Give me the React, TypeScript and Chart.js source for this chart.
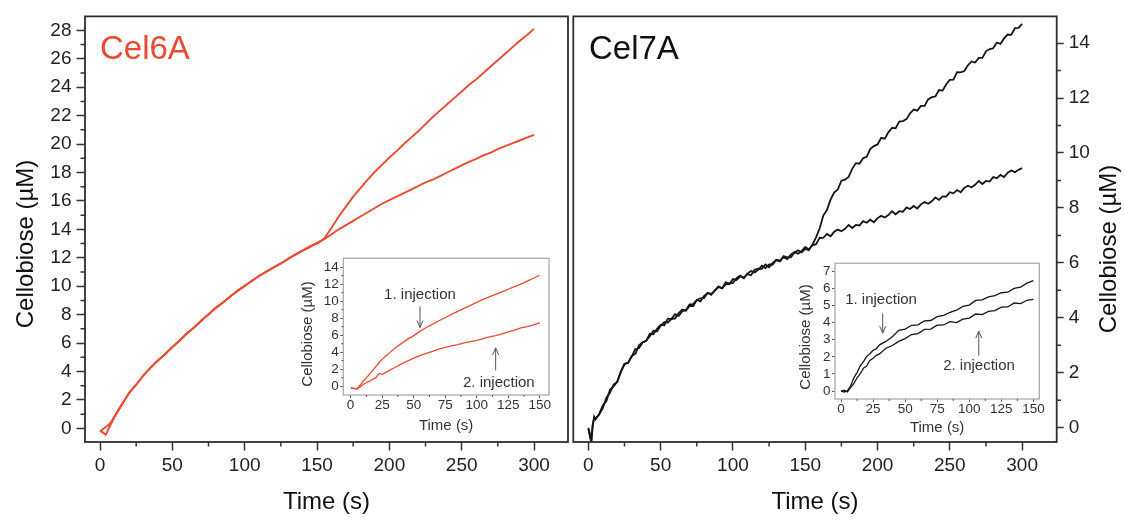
import React, { useEffect, useRef } from 'react';
import { Chart, registerables } from 'chart.js';

Chart.register(...registerables);

const FONT = "'Liberation Sans', Arial, Helvetica, sans-serif";
const RED = '#e94b32';
const INK = '#151515';

// ---------------- data ----------------
// Cel6A main panel (µM vs s)
const cel6aTime = [0, 2, 4, 6, 8, 10, 15, 20, 25, 30, 35, 40, 45, 50, 55, 60, 65, 70, 75, 80, 85, 90, 95, 100, 105, 110, 115, 120, 125, 130, 135, 140, 145, 150, 155, 160, 165, 170, 175, 180, 185, 190, 195, 200, 205, 210, 215, 220, 225, 230, 235, 240, 245, 250, 255, 260, 265, 270, 275, 280, 285, 290, 295, 300];
const cel6aUpper = [-0.25, -0.05, 0.1, 0.25, 0.5, 0.85, 1.7, 2.45, 3.1, 3.7, 4.3, 4.75, 5.25, 5.7, 6.2, 6.65, 7.1, 7.55, 8.05, 8.45, 8.85, 9.3, 9.65, 10.0, 10.4, 10.7, 11.05, 11.3, 11.6, 11.95, 12.2, 12.5, 12.8, 13.0, 13.35, 14.1, 14.9, 15.6, 16.3, 16.9, 17.5, 18.05, 18.55, 19.05, 19.5, 20.0, 20.45, 20.9, 21.4, 21.9, 22.35, 22.8, 23.25, 23.7, 24.15, 24.55, 25.0, 25.45, 25.9, 26.35, 26.8, 27.25, 27.65, 28.1];
const cel6aLower = [-0.15, -0.3, -0.45, 0.0, 0.4, 0.8, 1.65, 2.5, 3.05, 3.75, 4.25, 4.8, 5.2, 5.75, 6.15, 6.7, 7.1, 7.6, 8.0, 8.5, 8.85, 9.25, 9.7, 10.05, 10.35, 10.75, 11.0, 11.35, 11.6, 11.9, 12.25, 12.5, 12.75, 13.05, 13.3, 13.65, 14.0, 14.3, 14.6, 14.9, 15.2, 15.5, 15.8, 16.05, 16.3, 16.55, 16.8, 17.05, 17.3, 17.5, 17.75, 18.0, 18.25, 18.5, 18.75, 18.95, 19.2, 19.4, 19.65, 19.85, 20.05, 20.25, 20.45, 20.65];

// Cel7A main panel
const cel7aTime = [
  0, 1, 2, 3, 4, 5, 7.5,
  10, 12.5, 15, 17.5, 20, 22.5, 25, 27.5, 30, 32.5,
  35, 37.5, 40, 42.5, 45, 47.5, 50, 52.5, 55, 57.5,
  60, 62.5, 65, 67.5, 70, 72.5, 75, 77.5, 80, 82.5,
  85, 87.5, 90, 92.5, 95, 97.5, 100, 102.5, 105, 107.5,
  110, 112.5, 115, 117.5, 120, 122.5, 125, 127.5, 130, 132.5,
  135, 137.5, 140, 142.5, 145, 147.5, 150, 152.5, 155, 157.5,
  160, 162.5, 165, 167.5, 170, 172.5, 175, 177.5, 180, 182.5,
  185, 187.5, 190, 192.5, 195, 197.5, 200, 202.5, 205, 207.5,
  210, 212.5, 215, 217.5, 220, 222.5, 225, 227.5, 230, 232.5,
  235, 237.5, 240, 242.5, 245, 247.5, 250, 252.5, 255, 257.5,
  260, 262.5, 265, 267.5, 270, 272.5, 275, 277.5, 280, 282.5,
  285, 287.5, 290, 292.5, 295, 297.5, 300,
];
const cel7aUpper = [
  0.0, -0.2, -0.55, 0.05, 0.4, 0.3, 0.5,
  0.81, 0.97, 1.39, 1.5, 1.68, 2.04, 2.33, 2.36, 2.61, 2.69,
  3.0, 3.11, 3.16, 3.42, 3.4, 3.6, 3.74, 3.73, 3.97, 3.95,
  3.98, 4.17, 4.3, 4.26, 4.43, 4.43, 4.65, 4.71, 4.72, 4.91,
  4.84, 5.01, 5.12, 5.08, 5.29, 5.25, 5.27, 5.44, 5.54, 5.46,
  5.59, 5.55, 5.75, 5.79, 5.78, 5.94, 5.84, 6.0, 6.1, 6.05,
  6.25, 6.2, 6.2, 6.37, 6.46, 6.38, 6.51, 6.46, 6.67, 6.93,
  7.26, 7.72, 7.92, 8.3, 8.56, 8.67, 8.99, 9.03, 9.13, 9.42,
  9.63, 9.61, 9.81, 9.86, 10.15, 10.25, 10.31, 10.55, 10.52, 10.75,
  10.91, 10.9, 11.14, 11.16, 11.23, 11.44, 11.58, 11.54, 11.71, 11.71,
  11.95, 12.03, 12.06, 12.29, 12.27, 12.5, 12.66, 12.67, 12.94, 12.93,
  12.98, 13.19, 13.33, 13.29, 13.46, 13.46, 13.7, 13.78, 13.81, 14.02,
  13.97, 14.17, 14.31, 14.3, 14.54, 14.55, 14.7,
];
const cel7aLower = [
  -0.05, -0.3, -0.5, 0.1, 0.35, 0.35, 0.48,
  0.71, 1.09, 1.28, 1.57, 1.67, 2.03, 2.31, 2.37, 2.59, 2.86,
  2.89, 3.1, 3.16, 3.33, 3.53, 3.5, 3.71, 3.84, 3.83, 3.96,
  4.13, 4.07, 4.24, 4.28, 4.49, 4.5, 4.65, 4.6, 4.79, 4.9,
  4.87, 4.98, 5.14, 5.07, 5.22, 5.23, 5.41, 5.38, 5.51, 5.44,
  5.61, 5.7, 5.65, 5.75, 5.9, 5.81, 5.94, 5.94, 6.11, 6.08,
  6.21, 6.14, 6.3, 6.39, 6.33, 6.43, 6.58, 6.49, 6.64, 6.68,
  6.92, 6.91, 7.05, 6.97, 7.13, 7.21, 7.15, 7.24, 7.38, 7.27,
  7.38, 7.36, 7.52, 7.46, 7.57, 7.48, 7.63, 7.71, 7.65, 7.74,
  7.88, 7.77, 7.88, 7.86, 8.02, 7.96, 8.07, 7.98, 8.13, 8.21,
  8.15, 8.24, 8.38, 8.29, 8.42, 8.41, 8.57, 8.53, 8.65, 8.57,
  8.73, 8.81, 8.75, 8.84, 8.98, 8.87, 8.98, 8.96, 9.12, 9.08,
  9.2, 9.12, 9.28, 9.36, 9.3, 9.39, 9.45,
];

// Insets (per injection)
const insetTime = [0, 2.5, 5, 7.5, 10, 12.5, 15, 17.5, 20, 22.5, 25, 27.5, 30, 35, 40, 45, 50, 55, 60, 65, 70, 75, 80, 85, 90, 95, 100, 105, 110, 115, 120, 125, 130, 135, 140, 145, 150];
const cel6aInj1 = [-0.2, -0.25, -0.3, 0.1, 0.6, 1.0, 1.4, 1.85, 2.3, 2.75, 3.15, 3.5, 3.8, 4.45, 5.0, 5.5, 5.95, 6.45, 6.9, 7.3, 7.7, 8.05, 8.45, 8.8, 9.15, 9.5, 9.85, 10.2, 10.5, 10.8, 11.1, 11.4, 11.7, 12.0, 12.35, 12.7, 13.05];
const cel6aInj2 = [-0.2, -0.25, -0.35, -0.1, 0.2, 0.4, 0.6, 0.8, 1.0, 1.5, 1.4, 1.6, 1.8, 2.2, 2.6, 2.95, 3.3, 3.6, 3.85, 4.1, 4.35, 4.55, 4.75, 4.9, 5.1, 5.25, 5.4, 5.6, 5.8, 5.95, 6.15, 6.4, 6.6, 6.85, 7.0, 7.2, 7.45];
const cel7aInj1 = [0.0, -0.05, 0.02, 0.3, 0.78, 1.08, 1.48, 1.72, 2.03, 2.18, 2.38, 2.47, 2.7, 2.9, 3.17, 3.55, 3.62, 3.84, 3.87, 4.1, 4.12, 4.34, 4.42, 4.6, 4.72, 4.94, 5.02, 5.29, 5.32, 5.5, 5.57, 5.74, 5.77, 5.99, 6.07, 6.3, 6.45];
const cel7aInj2 = [0.0, 0.05, -0.05, 0.22, 0.43, 0.78, 1.02, 1.34, 1.47, 1.79, 1.92, 2.09, 2.17, 2.5, 2.66, 2.9, 3.06, 3.3, 3.36, 3.6, 3.62, 3.85, 3.86, 4.05, 4.0, 4.2, 4.26, 4.5, 4.46, 4.65, 4.7, 4.9, 4.91, 5.14, 5.11, 5.3, 5.35];

// tick values
const mainXTicks = [0, 50, 100, 150, 200, 250, 300];
const mainXMinor = [25, 75, 125, 175, 225, 275];
const cel6aYTicks = [0, 2, 4, 6, 8, 10, 12, 14, 16, 18, 20, 22, 24, 26, 28];
const cel6aYMinor = [1, 3, 5, 7, 9, 11, 13, 15, 17, 19, 21, 23, 25, 27];
const cel7aYTicks = [0, 2, 4, 6, 8, 10, 12, 14];
const cel7aYMinor = [1, 3, 5, 7, 9, 11, 13];
const insetXTicks = [0, 25, 50, 75, 100, 125, 150];
const insetXMinor = [12.5, 37.5, 62.5, 87.5, 112.5, 137.5];
const cel6aInsetYTicks = [0, 2, 4, 6, 8, 10, 12, 14];
const cel6aInsetYMinor = [1, 3, 5, 7, 9, 11, 13];
const cel7aInsetYTicks = [0, 1, 2, 3, 4, 5, 6, 7];

// annotation anchors (data units of each inset)
const cel6aNotes = [
  { label: '1. injection', tx: 55, ty: 10.8, ax: 55, from: 9.4, to: 6.9 },
  { label: '2. injection', tx: 117.5, ty: 0.35, ax: 115, from: 1.85, to: 4.5 },
];
const cel7aNotes = [
  { label: '1. injection', tx: 31.2, ty: 5.34, ax: 32.5, from: 4.53, to: 3.38 },
  { label: '2. injection', tx: 107.6, ty: 1.49, ax: 107.4, from: 2.07, to: 3.5 },
];

// ---------------- helpers ----------------
type Pt = { x: number; y: number };
const pts = (xs: number[], ys: number[]): Pt[] => xs.map((x, i) => ({ x, y: ys[i] }));

interface TextItem { text: string; x: number; y: number; size: number; color: string; rotate?: boolean; align?: CanvasTextAlign; baseline?: CanvasTextBaseline }
interface MinorSet { axis: 'x' | 'y'; side: 'left' | 'right' | 'bottom'; values: number[]; len: number }
interface Note { label: string; tx: number; ty: number; ax: number; from: number; to: number }

interface PanelSpec {
  left: number; top: number; width: number; height: number;
  padding: { left: number; right: number; top: number; bottom: number };
  yWidth: number; xHeight: number; yPosition: 'left' | 'right';
  xMin: number; xMax: number; yMin: number; yMax: number;
  xTicks: number[]; yTicks: number[];
  minors: MinorSet[];
  tickFont: number; tickLineHeight: number; tickColor: string;
  xTickLen: number; yTickLen: number; tickWidth: number; tickMarkColor: string;
  xPad: number; yPad: number;
  xTitle: string; xTitleSize: number; xTitleBottom: number; titleColor: string;
  frameColor: string; frameWidth: number;
  series: { data: Pt[]; color: string; width: number }[];
  texts: TextItem[];
  notes: Note[];
  noteSize: number;
}

const decoPlugin = (spec: PanelSpec) => ({
  id: 'deco',
  afterDatasetsDraw(chart: any) {
    const { ctx, chartArea: a, scales } = chart;
    const xs = scales.x;
    const ys = scales.y;
    ctx.save();
    // frame
    ctx.strokeStyle = spec.frameColor;
    ctx.lineWidth = spec.frameWidth;
    ctx.strokeRect(a.left, a.top, a.right - a.left, a.bottom - a.top);
    // minor ticks
    ctx.strokeStyle = spec.tickMarkColor;
    ctx.lineWidth = spec.tickWidth;
    ctx.beginPath();
    for (const m of spec.minors) {
      for (const v of m.values) {
        if (m.axis === 'x') {
          const p = xs.getPixelForValue(v);
          ctx.moveTo(p, a.bottom);
          ctx.lineTo(p, a.bottom + m.len);
        } else {
          const p = ys.getPixelForValue(v);
          if (m.side === 'left') {
            ctx.moveTo(a.left, p);
            ctx.lineTo(a.left - m.len, p);
          } else {
            ctx.moveTo(a.right, p);
            ctx.lineTo(a.right + m.len, p);
          }
        }
      }
    }
    ctx.stroke();
    // texts
    for (const t of spec.texts) {
      ctx.save();
      ctx.fillStyle = t.color;
      ctx.font = `${t.size}px ${FONT}`;
      ctx.translate(t.x, t.y);
      if (t.rotate) ctx.rotate(-Math.PI / 2);
      ctx.textAlign = t.align || 'center';
      ctx.textBaseline = t.baseline || 'middle';
      ctx.fillText(t.text, 0, 0);
      ctx.restore();
    }
    // annotations with arrows
    for (const n of spec.notes) {
      ctx.fillStyle = '#333';
      ctx.font = `${spec.noteSize}px ${FONT}`;
      ctx.textAlign = 'center';
      ctx.textBaseline = 'middle';
      ctx.fillText(n.label, xs.getPixelForValue(n.tx), ys.getPixelForValue(n.ty));
      const px = xs.getPixelForValue(n.ax);
      const p1 = ys.getPixelForValue(n.from);
      const p2 = ys.getPixelForValue(n.to);
      const dir = p2 > p1 ? 1 : -1;
      ctx.strokeStyle = '#555';
      ctx.lineWidth = 1;
      ctx.beginPath();
      ctx.moveTo(px, p1);
      ctx.lineTo(px, p2);
      ctx.moveTo(px - 3, p2 - dir * 7);
      ctx.lineTo(px, p2);
      ctx.lineTo(px + 3, p2 - dir * 7);
      ctx.stroke();
    }
    ctx.restore();
  },
});

const buildConfig = (spec: PanelSpec): any => ({
  type: 'line',
  data: {
    datasets: spec.series.map((s) => ({
      data: s.data,
      borderColor: s.color,
      backgroundColor: s.color,
      borderWidth: s.width,
      pointRadius: 0,
      fill: false,
      tension: 0,
    })),
  },
  options: {
    responsive: false,
    animation: false,
    events: [],
    layout: { padding: spec.padding },
    plugins: { legend: { display: false }, tooltip: { enabled: false }, title: { display: false } },
    scales: {
      x: {
        type: 'linear',
        min: spec.xMin,
        max: spec.xMax,
        afterBuildTicks: (s: any) => { s.ticks = spec.xTicks.map((v) => ({ value: v })); },
        afterFit: (s: any) => { s.height = spec.xHeight; },
        ticks: {
          autoSkip: false, maxRotation: 0, minRotation: 0,
          font: { family: FONT, size: spec.tickFont, lineHeight: spec.tickLineHeight },
          color: spec.tickColor, padding: spec.xPad,
        },
        grid: {
          display: true, drawOnChartArea: false, drawTicks: true,
          tickLength: spec.xTickLen, tickWidth: spec.tickWidth, tickColor: spec.tickMarkColor,
        },
        border: { display: false },
        title: {
          display: true, text: spec.xTitle, color: spec.titleColor,
          font: { family: FONT, size: spec.xTitleSize },
          padding: { top: 0, bottom: spec.xTitleBottom },
        },
      },
      y: {
        type: 'linear',
        position: spec.yPosition,
        min: spec.yMin,
        max: spec.yMax,
        afterBuildTicks: (s: any) => { s.ticks = spec.yTicks.map((v) => ({ value: v })); },
        afterFit: (s: any) => { s.width = spec.yWidth; },
        ticks: {
          autoSkip: false,
          font: { family: FONT, size: spec.tickFont, lineHeight: spec.tickLineHeight },
          color: spec.tickColor, padding: spec.yPad,
        },
        grid: {
          display: true, drawOnChartArea: false, drawTicks: true,
          tickLength: spec.yTickLen, tickWidth: spec.tickWidth, tickColor: spec.tickMarkColor,
        },
        border: { display: false },
        title: { display: false },
      },
    },
  },
  plugins: [decoPlugin(spec)],
});

function Panel({ spec }: { spec: PanelSpec }) {
  const ref = useRef<HTMLCanvasElement>(null);
  useEffect(() => {
    const chart = new Chart(ref.current as HTMLCanvasElement, buildConfig(spec));
    return () => chart.destroy();
  }, [spec]);
  return (
    <canvas
      ref={ref}
      width={spec.width}
      height={spec.height}
      style={{ position: 'absolute', left: spec.left, top: spec.top, width: spec.width, height: spec.height, display: 'block' }}
    />
  );
}

// ---------------- panels ----------------
const mainCommon = {
  tickFont: 19, tickLineHeight: 1.2, tickColor: '#222',
  xTickLen: 8.5, tickWidth: 1.5, tickMarkColor: '#333',
  xPad: 4, yPad: 5,
  xTitle: 'Time (s)', xTitleSize: 24, xTitleBottom: 4, titleColor: '#111',
  frameColor: '#2e2e2e', frameWidth: 1.8,
  notes: [] as Note[], noteSize: 15,
  height: 521, top: 0, xHeight: 79,
  xTicks: mainXTicks,
};

const cel6aMain: PanelSpec = {
  ...mainCommon,
  left: 0, width: 570,
  padding: { left: 0, right: 2, top: 14, bottom: 0 },
  yWidth: 85, yPosition: 'left', yTickLen: 8.5,
  xMin: -10.4, xMax: 323.5, yMin: -0.96, yMax: 28.98,
  yTicks: cel6aYTicks,
  minors: [
    { axis: 'x', side: 'bottom', values: mainXMinor, len: 4.5 },
    { axis: 'y', side: 'left', values: cel6aYMinor, len: 4.5 },
  ],
  series: [
    { data: pts(cel6aTime, cel6aUpper), color: RED, width: 1.9 },
    { data: pts(cel6aTime, cel6aLower), color: RED, width: 1.9 },
  ],
  texts: [
    { text: 'Cel6A', x: 100, y: 59, size: 33, color: RED, align: 'left', baseline: 'alphabetic' },
    { text: 'Cellobiose (µM)', x: 26, y: 244, size: 24, color: '#111', rotate: true },
  ],
};

const cel7aMain: PanelSpec = {
  ...mainCommon,
  left: 570, width: 555,
  padding: { left: 3.3, right: 0, top: 14, bottom: 0 },
  yWidth: 68.3, yPosition: 'right', yTickLen: 7,
  xMin: -10.4, xMax: 323.9, yMin: -0.52, yMax: 14.97,
  yTicks: cel7aYTicks,
  minors: [
    { axis: 'x', side: 'bottom', values: mainXMinor, len: 4.5 },
    { axis: 'y', side: 'right', values: cel7aYMinor, len: 4.3 },
  ],
  series: [
    { data: pts(cel7aTime, cel7aUpper), color: INK, width: 1.8 },
    { data: pts(cel7aTime, cel7aLower), color: INK, width: 1.8 },
  ],
  texts: [
    { text: 'Cel7A', x: 19, y: 59, size: 33, color: '#111', align: 'left', baseline: 'alphabetic' },
    { text: 'Cellobiose (µM)', x: 539, y: 249, size: 24, color: '#111', rotate: true },
  ],
};

const insetCommon = {
  height: 190, xHeight: 45,
  tickFont: 13.5, tickLineHeight: 1, tickColor: '#333',
  xTickLen: 3, yTickLen: 3, tickWidth: 1, tickMarkColor: '#555',
  xPad: 0.5, yPad: 1.5,
  xTitle: 'Time (s)', xTitleSize: 15, titleColor: '#333',
  frameColor: '#ababab', frameWidth: 1.3,
  noteSize: 15,
  xTicks: insetXTicks,
  yPosition: 'left' as const,
};

const cel6aInset: PanelSpec = {
  ...insetCommon,
  left: 285, top: 250, width: 270,
  padding: { left: 0, right: 6, top: 6, bottom: 0 },
  yWidth: 58.3, xTitleBottom: 5,
  xMin: -5.8, xMax: 157.3, yMin: -1.04, yMax: 15.05,
  yTicks: cel6aInsetYTicks,
  minors: [
    { axis: 'x', side: 'bottom', values: insetXMinor, len: 2 },
    { axis: 'y', side: 'left', values: cel6aInsetYMinor, len: 2 },
  ],
  series: [
    { data: pts(insetTime, cel6aInj1), color: RED, width: 1.3 },
    { data: pts(insetTime, cel6aInj2), color: RED, width: 1.3 },
  ],
  texts: [{ text: 'Cellobiose (µM)', x: 23, y: 84, size: 15, color: '#333', rotate: true }],
  notes: cel6aNotes,
};

const cel7aInset: PanelSpec = {
  ...insetCommon,
  left: 780, top: 255, width: 268,
  padding: { left: 0, right: 8.7, top: 6, bottom: 0 },
  yWidth: 55, xHeight: 46, xTitleBottom: 7.7,
  xMin: -4.7, xMax: 154.6, yMin: -0.46, yMax: 7.46,
  yTicks: cel7aInsetYTicks,
  minors: [{ axis: 'x', side: 'bottom', values: insetXMinor, len: 2 }],
  series: [
    { data: pts(insetTime, cel7aInj1), color: INK, width: 1.3 },
    { data: pts(insetTime, cel7aInj2), color: INK, width: 1.3 },
  ],
  texts: [{ text: 'Cellobiose (µM)', x: 25.5, y: 82, size: 15, color: '#333', rotate: true }],
  notes: cel7aNotes,
};

export default function App() {
  return (
    <div style={{ position: 'absolute', left: 0, top: 0, width: 1125, height: 521, background: '#ffffff', overflow: 'hidden' }}>
      <Panel spec={cel6aMain} />
      <Panel spec={cel7aMain} />
      <Panel spec={cel6aInset} />
      <Panel spec={cel7aInset} />
    </div>
  );
}
